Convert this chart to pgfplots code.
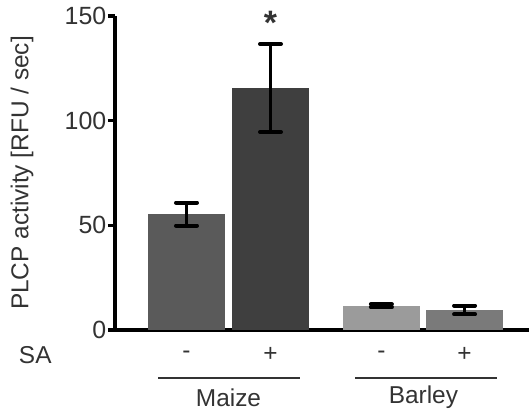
\documentclass[border=0pt]{standalone}
\usepackage{pgfplots}
\pgfplotsset{compat=1.18}
\usepackage{fontspec}
\setmainfont{Liberation Sans}
\definecolor{txt}{HTML}{333333}
\definecolor{cA}{HTML}{5A5A5A}
\definecolor{cB}{HTML}{3F3F3F}
\definecolor{cC}{HTML}{9B9B9B}
\definecolor{cD}{HTML}{7A7A7A}
\begin{document}
\begin{tikzpicture}
\useasboundingbox (-115bp,-83bp) rectangle (414bp,330bp);
\begin{axis}[
  at={(0,0)}, anchor=south west,
  scale only axis, width=414bp, height=314bp,
  xmin=-0.851, xmax=4.077, ymin=0, ymax=150,
  axis x line*=bottom, axis y line*=left,
  axis line style={line width=3.5bp, black},
  xtick=\empty,
  ytick={0,50,100,150},
  ytick align=outside,
  major tick length=7bp,
  y tick style={line width=3.5bp, black},
  /pgf/number format/assume math mode=true,
  yticklabel style={font=\fontsize{25}{25}\selectfont, text=txt, inner sep=1.5bp},
  ylabel={PLCP activity [RFU / sec]},
  ylabel style={at={(axis description cs:-0.2246,0.5)}, anchor=center, font=\fontsize{24.5}{25}\selectfont, text=txt},
  clip=false,
  ybar, bar width=0.917, bar shift=0pt,
  error bars/y dir=both, error bars/y explicit,
  error bars/error mark options={rotate=90, mark size=10.5bp, line width=4bp, black, line cap=round},
  error bars/error bar style={line width=3.5bp, black},
]
\addplot[fill=cA, draw=none] coordinates {(0,55.4) +- (0,5.5)};
\addplot[fill=cB, draw=none] coordinates {(1,115.6) +- (0,21)};
\addplot[fill=cC, draw=none] coordinates {(2.32,11.5) +- (0,0.7)};
\addplot[fill=cD, draw=none] coordinates {(3.31,9.6) +- (0,2.1)};
\node[font=\fontsize{34}{34}\selectfont\bfseries, text=txt] at (axis cs:1,146.5) {*};
\node[font=\fontsize{24.5}{25}\selectfont, text=txt] at (axis cs:-1.80,-11.9) {SA};
\node[font=\fontsize{24.5}{25}\selectfont, text=txt] at (axis cs:0,-11.9) {-};
\node[font=\fontsize{24.5}{25}\selectfont, text=txt] at (axis cs:1,-11.9) {+};
\node[font=\fontsize{24.5}{25}\selectfont, text=txt] at (axis cs:2.32,-11.9) {-};
\node[font=\fontsize{24.5}{25}\selectfont, text=txt] at (axis cs:3.31,-11.9) {+};
\draw[line width=2.5bp, txt] (axis cs:-0.339,-22.9) -- (axis cs:1.351,-22.9);
\draw[line width=2.5bp, txt] (axis cs:2.006,-22.9) -- (axis cs:3.696,-22.9);
\node[font=\fontsize{24.5}{25}\selectfont, text=txt] at (axis cs:0.5,-32.2) {Maize};
\node[font=\fontsize{24.5}{25}\selectfont, text=txt] at (axis cs:2.82,-32.2) {Barley};
\end{axis}
\end{tikzpicture}
\end{document}
